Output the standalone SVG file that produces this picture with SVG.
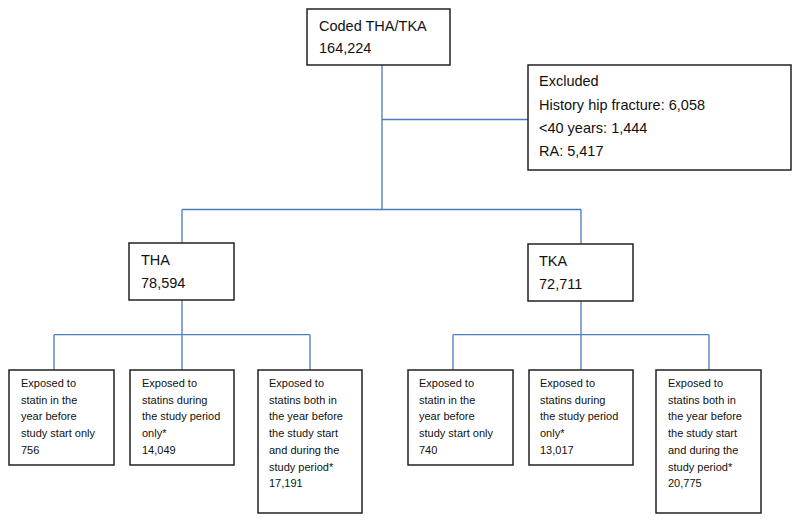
<svg xmlns="http://www.w3.org/2000/svg" width="800" height="522" viewBox="0 0 800 522">
<style>
.box{fill:#fff;stroke:#222;stroke-width:1.5}
.c{fill:none;stroke:#4a7ebb;stroke-width:1.3}
.t{font-family:"Liberation Sans",Arial,sans-serif;font-size:14.5px;fill:#111}
.s{font-family:"Liberation Sans",Arial,sans-serif;font-size:11px;fill:#111}
</style>
<rect width="800" height="522" fill="#fff"/>
<g id="connectors">
<path class="c" d="M382,65 V209.5 M382,119.5 H528 M182,209.5 H581 M182,209.5 V243 M581,209.5 V244"/>
<path class="c" d="M182,300 V334.7 M54,334.7 H310 M54,334.7 V370 M182,334.7 V370 M310,334.7 V370"/>
<path class="c" d="M581,301 V334.7 M453,334.7 H709 M453,334.7 V370 M581,334.7 V370 M709,334.7 V370"/>
</g>
<g id="coded">
<rect class="box" x="307" y="9" width="143" height="56"/>
<text class="t" x="319" y="31">Coded THA/TKA</text>
<text class="t" x="319" y="53">164,224</text>
</g>
<g id="excluded">
<rect class="box" x="528" y="65" width="263" height="105"/>
<text class="t" x="539" y="86">Excluded</text>
<text class="t" x="539" y="110">History hip fracture: 6,058</text>
<text class="t" x="539" y="133">&lt;40 years: 1,444</text>
<text class="t" x="539" y="156">RA: 5,417</text>
</g>
<g id="tha">
<rect class="box" x="129" y="243" width="105" height="57"/>
<text class="t" x="141" y="265">THA</text>
<text class="t" x="141" y="288">78,594</text>
</g>
<g id="tka">
<rect class="box" x="528" y="244" width="105" height="57"/>
<text class="t" x="539" y="266">TKA</text>
<text class="t" x="539" y="289">72,711</text>
</g>
<g id="tha1">
<rect class="box" x="9" y="370" width="105" height="95"/>
<text class="s" x="21" y="387">Exposed to</text>
<text class="s" x="21" y="403.7">statin in the</text>
<text class="s" x="21" y="420.4">year before</text>
<text class="s" x="21" y="437.1">study start only</text>
<text class="s" x="21" y="453.8">756</text>
</g>
<g id="tha2">
<rect class="box" x="130" y="370" width="104" height="95"/>
<text class="s" x="142" y="387">Exposed to</text>
<text class="s" x="142" y="403.7">statins during</text>
<text class="s" x="142" y="420.4">the study period</text>
<text class="s" x="142" y="437.1">only*</text>
<text class="s" x="142" y="453.8">14,049</text>
</g>
<g id="tha3">
<rect class="box" x="258" y="370" width="104" height="143"/>
<text class="s" x="269" y="387">Exposed to</text>
<text class="s" x="269" y="403.7">statins both in</text>
<text class="s" x="269" y="420.4">the year before</text>
<text class="s" x="269" y="437.1">the study start</text>
<text class="s" x="269" y="453.8">and during the</text>
<text class="s" x="269" y="470.5">study period*</text>
<text class="s" x="269" y="487.2">17,191</text>
</g>
<g id="tka1">
<rect class="box" x="408" y="370" width="105" height="95"/>
<text class="s" x="419" y="387">Exposed to</text>
<text class="s" x="419" y="403.7">statin in the</text>
<text class="s" x="419" y="420.4">year before</text>
<text class="s" x="419" y="437.1">study start only</text>
<text class="s" x="419" y="453.8">740</text>
</g>
<g id="tka2">
<rect class="box" x="529" y="370" width="104" height="95"/>
<text class="s" x="540" y="387">Exposed to</text>
<text class="s" x="540" y="403.7">statins during</text>
<text class="s" x="540" y="420.4">the study period</text>
<text class="s" x="540" y="437.1">only*</text>
<text class="s" x="540" y="453.8">13,017</text>
</g>
<g id="tka3">
<rect class="box" x="656" y="370" width="105" height="143"/>
<text class="s" x="668" y="387">Exposed to</text>
<text class="s" x="668" y="403.7">statins both in</text>
<text class="s" x="668" y="420.4">the year before</text>
<text class="s" x="668" y="437.1">the study start</text>
<text class="s" x="668" y="453.8">and during the</text>
<text class="s" x="668" y="470.5">study period*</text>
<text class="s" x="668" y="487.2">20,775</text>
</g>
</svg>
